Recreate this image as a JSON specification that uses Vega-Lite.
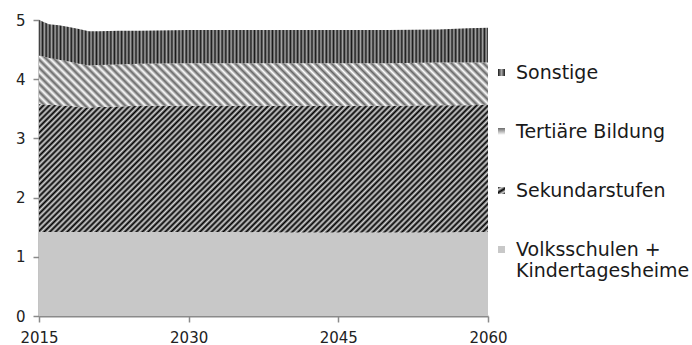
{
  "$schema": "https://vega.github.io/schema/vega-lite/v6.json",
  "width": 449,
  "height": 296,
  "autosize": {"type": "none"},
  "padding": {"left": 39, "top": 20, "right": 204, "bottom": 29},
  "background": "white",
  "params": [
    {
      "name": "hatchSonstige",
      "value": {"gradient": "linear", "x1": 0, "y1": 0, "x2": 1, "y2": 0, "stops": [
        {"offset":0,"color":"#1a1a1a"},{"offset":0.004,"color":"#a6a6a6"},{"offset":0.008,"color":"#1a1a1a"},{"offset":0.012,"color":"#a6a6a6"},{"offset":0.016,"color":"#1a1a1a"},{"offset":0.02,"color":"#a6a6a6"},{"offset":0.024,"color":"#1a1a1a"},{"offset":0.028,"color":"#a6a6a6"},{"offset":0.032,"color":"#1a1a1a"},{"offset":0.036,"color":"#a6a6a6"},
        {"offset":0.04,"color":"#1a1a1a"},{"offset":0.044,"color":"#a6a6a6"},{"offset":0.048,"color":"#1a1a1a"},{"offset":0.052,"color":"#a6a6a6"},{"offset":0.056,"color":"#1a1a1a"},{"offset":0.06,"color":"#a6a6a6"},{"offset":0.064,"color":"#1a1a1a"},{"offset":0.068,"color":"#a6a6a6"},{"offset":0.072,"color":"#1a1a1a"},{"offset":0.076,"color":"#a6a6a6"},
        {"offset":0.08,"color":"#1a1a1a"},{"offset":0.084,"color":"#a6a6a6"},{"offset":0.088,"color":"#1a1a1a"},{"offset":0.092,"color":"#a6a6a6"},{"offset":0.096,"color":"#1a1a1a"},{"offset":0.1,"color":"#a6a6a6"},{"offset":0.104,"color":"#1a1a1a"},{"offset":0.108,"color":"#a6a6a6"},{"offset":0.112,"color":"#1a1a1a"},{"offset":0.116,"color":"#a6a6a6"},
        {"offset":0.12,"color":"#1a1a1a"},{"offset":0.124,"color":"#a6a6a6"},{"offset":0.128,"color":"#1a1a1a"},{"offset":0.132,"color":"#a6a6a6"},{"offset":0.136,"color":"#1a1a1a"},{"offset":0.14,"color":"#a6a6a6"},{"offset":0.144,"color":"#1a1a1a"},{"offset":0.148,"color":"#a6a6a6"},{"offset":0.152,"color":"#1a1a1a"},{"offset":0.156,"color":"#a6a6a6"},
        {"offset":0.16,"color":"#1a1a1a"},{"offset":0.164,"color":"#a6a6a6"},{"offset":0.168,"color":"#1a1a1a"},{"offset":0.172,"color":"#a6a6a6"},{"offset":0.176,"color":"#1a1a1a"},{"offset":0.18,"color":"#a6a6a6"},{"offset":0.184,"color":"#1a1a1a"},{"offset":0.188,"color":"#a6a6a6"},{"offset":0.192,"color":"#1a1a1a"},{"offset":0.196,"color":"#a6a6a6"},
        {"offset":0.2,"color":"#1a1a1a"},{"offset":0.204,"color":"#a6a6a6"},{"offset":0.208,"color":"#1a1a1a"},{"offset":0.212,"color":"#a6a6a6"},{"offset":0.216,"color":"#1a1a1a"},{"offset":0.22,"color":"#a6a6a6"},{"offset":0.224,"color":"#1a1a1a"},{"offset":0.228,"color":"#a6a6a6"},{"offset":0.232,"color":"#1a1a1a"},{"offset":0.236,"color":"#a6a6a6"},
        {"offset":0.24,"color":"#1a1a1a"},{"offset":0.244,"color":"#a6a6a6"},{"offset":0.248,"color":"#1a1a1a"},{"offset":0.252,"color":"#a6a6a6"},{"offset":0.256,"color":"#1a1a1a"},{"offset":0.26,"color":"#a6a6a6"},{"offset":0.264,"color":"#1a1a1a"},{"offset":0.268,"color":"#a6a6a6"},{"offset":0.272,"color":"#1a1a1a"},{"offset":0.276,"color":"#a6a6a6"},
        {"offset":0.28,"color":"#1a1a1a"},{"offset":0.284,"color":"#a6a6a6"},{"offset":0.288,"color":"#1a1a1a"},{"offset":0.292,"color":"#a6a6a6"},{"offset":0.296,"color":"#1a1a1a"},{"offset":0.3,"color":"#a6a6a6"},{"offset":0.304,"color":"#1a1a1a"},{"offset":0.308,"color":"#a6a6a6"},{"offset":0.312,"color":"#1a1a1a"},{"offset":0.316,"color":"#a6a6a6"},
        {"offset":0.32,"color":"#1a1a1a"},{"offset":0.324,"color":"#a6a6a6"},{"offset":0.328,"color":"#1a1a1a"},{"offset":0.332,"color":"#a6a6a6"},{"offset":0.336,"color":"#1a1a1a"},{"offset":0.34,"color":"#a6a6a6"},{"offset":0.344,"color":"#1a1a1a"},{"offset":0.348,"color":"#a6a6a6"},{"offset":0.352,"color":"#1a1a1a"},{"offset":0.356,"color":"#a6a6a6"},
        {"offset":0.36,"color":"#1a1a1a"},{"offset":0.364,"color":"#a6a6a6"},{"offset":0.368,"color":"#1a1a1a"},{"offset":0.372,"color":"#a6a6a6"},{"offset":0.376,"color":"#1a1a1a"},{"offset":0.38,"color":"#a6a6a6"},{"offset":0.384,"color":"#1a1a1a"},{"offset":0.388,"color":"#a6a6a6"},{"offset":0.392,"color":"#1a1a1a"},{"offset":0.396,"color":"#a6a6a6"},
        {"offset":0.4,"color":"#1a1a1a"},{"offset":0.404,"color":"#a6a6a6"},{"offset":0.408,"color":"#1a1a1a"},{"offset":0.412,"color":"#a6a6a6"},{"offset":0.416,"color":"#1a1a1a"},{"offset":0.42,"color":"#a6a6a6"},{"offset":0.424,"color":"#1a1a1a"},{"offset":0.428,"color":"#a6a6a6"},{"offset":0.432,"color":"#1a1a1a"},{"offset":0.436,"color":"#a6a6a6"},
        {"offset":0.44,"color":"#1a1a1a"},{"offset":0.444,"color":"#a6a6a6"},{"offset":0.448,"color":"#1a1a1a"},{"offset":0.452,"color":"#a6a6a6"},{"offset":0.456,"color":"#1a1a1a"},{"offset":0.46,"color":"#a6a6a6"},{"offset":0.464,"color":"#1a1a1a"},{"offset":0.468,"color":"#a6a6a6"},{"offset":0.472,"color":"#1a1a1a"},{"offset":0.476,"color":"#a6a6a6"},
        {"offset":0.48,"color":"#1a1a1a"},{"offset":0.484,"color":"#a6a6a6"},{"offset":0.488,"color":"#1a1a1a"},{"offset":0.492,"color":"#a6a6a6"},{"offset":0.496,"color":"#1a1a1a"},{"offset":0.5,"color":"#a6a6a6"},{"offset":0.504,"color":"#1a1a1a"},{"offset":0.508,"color":"#a6a6a6"},{"offset":0.512,"color":"#1a1a1a"},{"offset":0.516,"color":"#a6a6a6"},
        {"offset":0.52,"color":"#1a1a1a"},{"offset":0.524,"color":"#a6a6a6"},{"offset":0.528,"color":"#1a1a1a"},{"offset":0.532,"color":"#a6a6a6"},{"offset":0.536,"color":"#1a1a1a"},{"offset":0.54,"color":"#a6a6a6"},{"offset":0.544,"color":"#1a1a1a"},{"offset":0.548,"color":"#a6a6a6"},{"offset":0.552,"color":"#1a1a1a"},{"offset":0.556,"color":"#a6a6a6"},
        {"offset":0.56,"color":"#1a1a1a"},{"offset":0.564,"color":"#a6a6a6"},{"offset":0.568,"color":"#1a1a1a"},{"offset":0.572,"color":"#a6a6a6"},{"offset":0.576,"color":"#1a1a1a"},{"offset":0.58,"color":"#a6a6a6"},{"offset":0.584,"color":"#1a1a1a"},{"offset":0.588,"color":"#a6a6a6"},{"offset":0.592,"color":"#1a1a1a"},{"offset":0.596,"color":"#a6a6a6"},
        {"offset":0.6,"color":"#1a1a1a"},{"offset":0.604,"color":"#a6a6a6"},{"offset":0.608,"color":"#1a1a1a"},{"offset":0.612,"color":"#a6a6a6"},{"offset":0.616,"color":"#1a1a1a"},{"offset":0.62,"color":"#a6a6a6"},{"offset":0.624,"color":"#1a1a1a"},{"offset":0.628,"color":"#a6a6a6"},{"offset":0.632,"color":"#1a1a1a"},{"offset":0.636,"color":"#a6a6a6"},
        {"offset":0.64,"color":"#1a1a1a"},{"offset":0.644,"color":"#a6a6a6"},{"offset":0.648,"color":"#1a1a1a"},{"offset":0.652,"color":"#a6a6a6"},{"offset":0.656,"color":"#1a1a1a"},{"offset":0.66,"color":"#a6a6a6"},{"offset":0.664,"color":"#1a1a1a"},{"offset":0.668,"color":"#a6a6a6"},{"offset":0.672,"color":"#1a1a1a"},{"offset":0.676,"color":"#a6a6a6"},
        {"offset":0.68,"color":"#1a1a1a"},{"offset":0.684,"color":"#a6a6a6"},{"offset":0.688,"color":"#1a1a1a"},{"offset":0.692,"color":"#a6a6a6"},{"offset":0.696,"color":"#1a1a1a"},{"offset":0.7,"color":"#a6a6a6"},{"offset":0.704,"color":"#1a1a1a"},{"offset":0.708,"color":"#a6a6a6"},{"offset":0.712,"color":"#1a1a1a"},{"offset":0.716,"color":"#a6a6a6"},
        {"offset":0.72,"color":"#1a1a1a"},{"offset":0.724,"color":"#a6a6a6"},{"offset":0.728,"color":"#1a1a1a"},{"offset":0.732,"color":"#a6a6a6"},{"offset":0.736,"color":"#1a1a1a"},{"offset":0.74,"color":"#a6a6a6"},{"offset":0.744,"color":"#1a1a1a"},{"offset":0.748,"color":"#a6a6a6"},{"offset":0.752,"color":"#1a1a1a"},{"offset":0.756,"color":"#a6a6a6"},
        {"offset":0.76,"color":"#1a1a1a"},{"offset":0.764,"color":"#a6a6a6"},{"offset":0.768,"color":"#1a1a1a"},{"offset":0.772,"color":"#a6a6a6"},{"offset":0.776,"color":"#1a1a1a"},{"offset":0.78,"color":"#a6a6a6"},{"offset":0.784,"color":"#1a1a1a"},{"offset":0.788,"color":"#a6a6a6"},{"offset":0.792,"color":"#1a1a1a"},{"offset":0.796,"color":"#a6a6a6"},
        {"offset":0.8,"color":"#1a1a1a"},{"offset":0.804,"color":"#a6a6a6"},{"offset":0.808,"color":"#1a1a1a"},{"offset":0.812,"color":"#a6a6a6"},{"offset":0.816,"color":"#1a1a1a"},{"offset":0.82,"color":"#a6a6a6"},{"offset":0.824,"color":"#1a1a1a"},{"offset":0.828,"color":"#a6a6a6"},{"offset":0.832,"color":"#1a1a1a"},{"offset":0.836,"color":"#a6a6a6"},
        {"offset":0.84,"color":"#1a1a1a"},{"offset":0.844,"color":"#a6a6a6"},{"offset":0.848,"color":"#1a1a1a"},{"offset":0.852,"color":"#a6a6a6"},{"offset":0.856,"color":"#1a1a1a"},{"offset":0.86,"color":"#a6a6a6"},{"offset":0.864,"color":"#1a1a1a"},{"offset":0.868,"color":"#a6a6a6"},{"offset":0.872,"color":"#1a1a1a"},{"offset":0.876,"color":"#a6a6a6"},
        {"offset":0.88,"color":"#1a1a1a"},{"offset":0.884,"color":"#a6a6a6"},{"offset":0.888,"color":"#1a1a1a"},{"offset":0.892,"color":"#a6a6a6"},{"offset":0.896,"color":"#1a1a1a"},{"offset":0.9,"color":"#a6a6a6"},{"offset":0.904,"color":"#1a1a1a"},{"offset":0.908,"color":"#a6a6a6"},{"offset":0.912,"color":"#1a1a1a"},{"offset":0.916,"color":"#a6a6a6"},
        {"offset":0.92,"color":"#1a1a1a"},{"offset":0.924,"color":"#a6a6a6"},{"offset":0.928,"color":"#1a1a1a"},{"offset":0.932,"color":"#a6a6a6"},{"offset":0.936,"color":"#1a1a1a"},{"offset":0.94,"color":"#a6a6a6"},{"offset":0.944,"color":"#1a1a1a"},{"offset":0.948,"color":"#a6a6a6"},{"offset":0.952,"color":"#1a1a1a"},{"offset":0.956,"color":"#a6a6a6"},
        {"offset":0.96,"color":"#1a1a1a"},{"offset":0.964,"color":"#a6a6a6"},{"offset":0.968,"color":"#1a1a1a"},{"offset":0.972,"color":"#a6a6a6"},{"offset":0.976,"color":"#1a1a1a"},{"offset":0.98,"color":"#a6a6a6"},{"offset":0.984,"color":"#1a1a1a"},{"offset":0.988,"color":"#a6a6a6"},{"offset":0.992,"color":"#1a1a1a"},{"offset":0.996,"color":"#a6a6a6"},
        {"offset":1,"color":"#1a1a1a"}
      ]}
    },
    {
      "name": "hatchTertiaer",
      "value": {"gradient": "linear", "x1": 0, "y1": 1, "x2": 1.101, "y2": 0.872, "stops": [
        {"offset":0,"color":"#666"},{"offset":0.008,"color":"#fff"},{"offset":0.016,"color":"#666"},{"offset":0.024,"color":"#fff"},{"offset":0.032,"color":"#666"},{"offset":0.04,"color":"#fff"},{"offset":0.048,"color":"#666"},{"offset":0.056,"color":"#fff"},{"offset":0.064,"color":"#666"},{"offset":0.072,"color":"#fff"},
        {"offset":0.08,"color":"#666"},{"offset":0.088,"color":"#fff"},{"offset":0.096,"color":"#666"},{"offset":0.104,"color":"#fff"},{"offset":0.112,"color":"#666"},{"offset":0.12,"color":"#fff"},{"offset":0.128,"color":"#666"},{"offset":0.136,"color":"#fff"},{"offset":0.144,"color":"#666"},{"offset":0.152,"color":"#fff"},
        {"offset":0.16,"color":"#666"},{"offset":0.168,"color":"#fff"},{"offset":0.176,"color":"#666"},{"offset":0.184,"color":"#fff"},{"offset":0.192,"color":"#666"},{"offset":0.2,"color":"#fff"},{"offset":0.208,"color":"#666"},{"offset":0.216,"color":"#fff"},{"offset":0.224,"color":"#666"},{"offset":0.232,"color":"#fff"},
        {"offset":0.24,"color":"#666"},{"offset":0.248,"color":"#fff"},{"offset":0.256,"color":"#666"},{"offset":0.264,"color":"#fff"},{"offset":0.272,"color":"#666"},{"offset":0.28,"color":"#fff"},{"offset":0.288,"color":"#666"},{"offset":0.296,"color":"#fff"},{"offset":0.304,"color":"#666"},{"offset":0.312,"color":"#fff"},
        {"offset":0.32,"color":"#666"},{"offset":0.328,"color":"#fff"},{"offset":0.336,"color":"#666"},{"offset":0.344,"color":"#fff"},{"offset":0.352,"color":"#666"},{"offset":0.36,"color":"#fff"},{"offset":0.368,"color":"#666"},{"offset":0.376,"color":"#fff"},{"offset":0.384,"color":"#666"},{"offset":0.392,"color":"#fff"},
        {"offset":0.4,"color":"#666"},{"offset":0.408,"color":"#fff"},{"offset":0.416,"color":"#666"},{"offset":0.424,"color":"#fff"},{"offset":0.432,"color":"#666"},{"offset":0.44,"color":"#fff"},{"offset":0.448,"color":"#666"},{"offset":0.456,"color":"#fff"},{"offset":0.464,"color":"#666"},{"offset":0.472,"color":"#fff"},
        {"offset":0.48,"color":"#666"},{"offset":0.488,"color":"#fff"},{"offset":0.496,"color":"#666"},{"offset":0.504,"color":"#fff"},{"offset":0.512,"color":"#666"},{"offset":0.52,"color":"#fff"},{"offset":0.528,"color":"#666"},{"offset":0.536,"color":"#fff"},{"offset":0.544,"color":"#666"},{"offset":0.552,"color":"#fff"},
        {"offset":0.56,"color":"#666"},{"offset":0.568,"color":"#fff"},{"offset":0.576,"color":"#666"},{"offset":0.584,"color":"#fff"},{"offset":0.592,"color":"#666"},{"offset":0.6,"color":"#fff"},{"offset":0.608,"color":"#666"},{"offset":0.616,"color":"#fff"},{"offset":0.624,"color":"#666"},{"offset":0.632,"color":"#fff"},
        {"offset":0.64,"color":"#666"},{"offset":0.648,"color":"#fff"},{"offset":0.656,"color":"#666"},{"offset":0.664,"color":"#fff"},{"offset":0.672,"color":"#666"},{"offset":0.68,"color":"#fff"},{"offset":0.688,"color":"#666"},{"offset":0.696,"color":"#fff"},{"offset":0.704,"color":"#666"},{"offset":0.712,"color":"#fff"},
        {"offset":0.72,"color":"#666"},{"offset":0.728,"color":"#fff"},{"offset":0.736,"color":"#666"},{"offset":0.744,"color":"#fff"},{"offset":0.752,"color":"#666"},{"offset":0.76,"color":"#fff"},{"offset":0.768,"color":"#666"},{"offset":0.776,"color":"#fff"},{"offset":0.784,"color":"#666"},{"offset":0.792,"color":"#fff"},
        {"offset":0.8,"color":"#666"},{"offset":0.808,"color":"#fff"},{"offset":0.816,"color":"#666"},{"offset":0.824,"color":"#fff"},{"offset":0.832,"color":"#666"},{"offset":0.84,"color":"#fff"},{"offset":0.848,"color":"#666"},{"offset":0.856,"color":"#fff"},{"offset":0.864,"color":"#666"},{"offset":0.872,"color":"#fff"},
        {"offset":0.88,"color":"#666"},{"offset":0.888,"color":"#fff"},{"offset":0.896,"color":"#666"},{"offset":0.904,"color":"#fff"},{"offset":0.912,"color":"#666"},{"offset":0.92,"color":"#fff"},{"offset":0.928,"color":"#666"},{"offset":0.936,"color":"#fff"},{"offset":0.944,"color":"#666"},{"offset":0.952,"color":"#fff"},
        {"offset":0.96,"color":"#666"},{"offset":0.968,"color":"#fff"},{"offset":0.976,"color":"#666"},{"offset":0.984,"color":"#fff"},{"offset":0.992,"color":"#666"},{"offset":1,"color":"#fff"}
      ]}
    },
    {
      "name": "hatchSekundar",
      "value": {"gradient": "linear", "x1": 0, "y1": 0, "x2": 1.189, "y2": 0.34, "stops": [
        {"offset":0,"color":"#000"},{"offset":0.005,"color":"#d4d4d4"},{"offset":0.01,"color":"#000"},{"offset":0.015,"color":"#d4d4d4"},{"offset":0.02,"color":"#000"},{"offset":0.025,"color":"#d4d4d4"},{"offset":0.03,"color":"#000"},{"offset":0.035,"color":"#d4d4d4"},{"offset":0.04,"color":"#000"},{"offset":0.045,"color":"#d4d4d4"},
        {"offset":0.05,"color":"#000"},{"offset":0.055,"color":"#d4d4d4"},{"offset":0.06,"color":"#000"},{"offset":0.065,"color":"#d4d4d4"},{"offset":0.07,"color":"#000"},{"offset":0.075,"color":"#d4d4d4"},{"offset":0.08,"color":"#000"},{"offset":0.085,"color":"#d4d4d4"},{"offset":0.09,"color":"#000"},{"offset":0.095,"color":"#d4d4d4"},
        {"offset":0.1,"color":"#000"},{"offset":0.105,"color":"#d4d4d4"},{"offset":0.11,"color":"#000"},{"offset":0.115,"color":"#d4d4d4"},{"offset":0.12,"color":"#000"},{"offset":0.125,"color":"#d4d4d4"},{"offset":0.13,"color":"#000"},{"offset":0.135,"color":"#d4d4d4"},{"offset":0.14,"color":"#000"},{"offset":0.145,"color":"#d4d4d4"},
        {"offset":0.15,"color":"#000"},{"offset":0.155,"color":"#d4d4d4"},{"offset":0.16,"color":"#000"},{"offset":0.165,"color":"#d4d4d4"},{"offset":0.17,"color":"#000"},{"offset":0.175,"color":"#d4d4d4"},{"offset":0.18,"color":"#000"},{"offset":0.185,"color":"#d4d4d4"},{"offset":0.19,"color":"#000"},{"offset":0.195,"color":"#d4d4d4"},
        {"offset":0.2,"color":"#000"},{"offset":0.205,"color":"#d4d4d4"},{"offset":0.21,"color":"#000"},{"offset":0.215,"color":"#d4d4d4"},{"offset":0.22,"color":"#000"},{"offset":0.225,"color":"#d4d4d4"},{"offset":0.23,"color":"#000"},{"offset":0.235,"color":"#d4d4d4"},{"offset":0.24,"color":"#000"},{"offset":0.245,"color":"#d4d4d4"},
        {"offset":0.25,"color":"#000"},{"offset":0.255,"color":"#d4d4d4"},{"offset":0.26,"color":"#000"},{"offset":0.265,"color":"#d4d4d4"},{"offset":0.27,"color":"#000"},{"offset":0.275,"color":"#d4d4d4"},{"offset":0.28,"color":"#000"},{"offset":0.285,"color":"#d4d4d4"},{"offset":0.29,"color":"#000"},{"offset":0.295,"color":"#d4d4d4"},
        {"offset":0.3,"color":"#000"},{"offset":0.305,"color":"#d4d4d4"},{"offset":0.31,"color":"#000"},{"offset":0.315,"color":"#d4d4d4"},{"offset":0.32,"color":"#000"},{"offset":0.325,"color":"#d4d4d4"},{"offset":0.33,"color":"#000"},{"offset":0.335,"color":"#d4d4d4"},{"offset":0.34,"color":"#000"},{"offset":0.345,"color":"#d4d4d4"},
        {"offset":0.35,"color":"#000"},{"offset":0.355,"color":"#d4d4d4"},{"offset":0.36,"color":"#000"},{"offset":0.365,"color":"#d4d4d4"},{"offset":0.37,"color":"#000"},{"offset":0.375,"color":"#d4d4d4"},{"offset":0.38,"color":"#000"},{"offset":0.385,"color":"#d4d4d4"},{"offset":0.39,"color":"#000"},{"offset":0.395,"color":"#d4d4d4"},
        {"offset":0.4,"color":"#000"},{"offset":0.405,"color":"#d4d4d4"},{"offset":0.41,"color":"#000"},{"offset":0.415,"color":"#d4d4d4"},{"offset":0.42,"color":"#000"},{"offset":0.425,"color":"#d4d4d4"},{"offset":0.43,"color":"#000"},{"offset":0.435,"color":"#d4d4d4"},{"offset":0.44,"color":"#000"},{"offset":0.445,"color":"#d4d4d4"},
        {"offset":0.45,"color":"#000"},{"offset":0.455,"color":"#d4d4d4"},{"offset":0.46,"color":"#000"},{"offset":0.465,"color":"#d4d4d4"},{"offset":0.47,"color":"#000"},{"offset":0.475,"color":"#d4d4d4"},{"offset":0.48,"color":"#000"},{"offset":0.485,"color":"#d4d4d4"},{"offset":0.49,"color":"#000"},{"offset":0.495,"color":"#d4d4d4"},
        {"offset":0.5,"color":"#000"},{"offset":0.505,"color":"#d4d4d4"},{"offset":0.51,"color":"#000"},{"offset":0.515,"color":"#d4d4d4"},{"offset":0.52,"color":"#000"},{"offset":0.525,"color":"#d4d4d4"},{"offset":0.53,"color":"#000"},{"offset":0.535,"color":"#d4d4d4"},{"offset":0.54,"color":"#000"},{"offset":0.545,"color":"#d4d4d4"},
        {"offset":0.55,"color":"#000"},{"offset":0.555,"color":"#d4d4d4"},{"offset":0.56,"color":"#000"},{"offset":0.565,"color":"#d4d4d4"},{"offset":0.57,"color":"#000"},{"offset":0.575,"color":"#d4d4d4"},{"offset":0.58,"color":"#000"},{"offset":0.585,"color":"#d4d4d4"},{"offset":0.59,"color":"#000"},{"offset":0.595,"color":"#d4d4d4"},
        {"offset":0.6,"color":"#000"},{"offset":0.605,"color":"#d4d4d4"},{"offset":0.61,"color":"#000"},{"offset":0.615,"color":"#d4d4d4"},{"offset":0.62,"color":"#000"},{"offset":0.625,"color":"#d4d4d4"},{"offset":0.63,"color":"#000"},{"offset":0.635,"color":"#d4d4d4"},{"offset":0.64,"color":"#000"},{"offset":0.645,"color":"#d4d4d4"},
        {"offset":0.65,"color":"#000"},{"offset":0.655,"color":"#d4d4d4"},{"offset":0.66,"color":"#000"},{"offset":0.665,"color":"#d4d4d4"},{"offset":0.67,"color":"#000"},{"offset":0.675,"color":"#d4d4d4"},{"offset":0.68,"color":"#000"},{"offset":0.685,"color":"#d4d4d4"},{"offset":0.69,"color":"#000"},{"offset":0.695,"color":"#d4d4d4"},
        {"offset":0.7,"color":"#000"},{"offset":0.705,"color":"#d4d4d4"},{"offset":0.71,"color":"#000"},{"offset":0.715,"color":"#d4d4d4"},{"offset":0.72,"color":"#000"},{"offset":0.725,"color":"#d4d4d4"},{"offset":0.73,"color":"#000"},{"offset":0.735,"color":"#d4d4d4"},{"offset":0.74,"color":"#000"},{"offset":0.745,"color":"#d4d4d4"},
        {"offset":0.75,"color":"#000"},{"offset":0.755,"color":"#d4d4d4"},{"offset":0.76,"color":"#000"},{"offset":0.765,"color":"#d4d4d4"},{"offset":0.77,"color":"#000"},{"offset":0.775,"color":"#d4d4d4"},{"offset":0.78,"color":"#000"},{"offset":0.785,"color":"#d4d4d4"},{"offset":0.79,"color":"#000"},{"offset":0.795,"color":"#d4d4d4"},
        {"offset":0.8,"color":"#000"},{"offset":0.805,"color":"#d4d4d4"},{"offset":0.81,"color":"#000"},{"offset":0.815,"color":"#d4d4d4"},{"offset":0.82,"color":"#000"},{"offset":0.825,"color":"#d4d4d4"},{"offset":0.83,"color":"#000"},{"offset":0.835,"color":"#d4d4d4"},{"offset":0.84,"color":"#000"},{"offset":0.845,"color":"#d4d4d4"},
        {"offset":0.85,"color":"#000"},{"offset":0.855,"color":"#d4d4d4"},{"offset":0.86,"color":"#000"},{"offset":0.865,"color":"#d4d4d4"},{"offset":0.87,"color":"#000"},{"offset":0.875,"color":"#d4d4d4"},{"offset":0.88,"color":"#000"},{"offset":0.885,"color":"#d4d4d4"},{"offset":0.89,"color":"#000"},{"offset":0.895,"color":"#d4d4d4"},
        {"offset":0.9,"color":"#000"},{"offset":0.905,"color":"#d4d4d4"},{"offset":0.91,"color":"#000"},{"offset":0.915,"color":"#d4d4d4"},{"offset":0.92,"color":"#000"},{"offset":0.925,"color":"#d4d4d4"},{"offset":0.93,"color":"#000"},{"offset":0.935,"color":"#d4d4d4"},{"offset":0.94,"color":"#000"},{"offset":0.945,"color":"#d4d4d4"},
        {"offset":0.95,"color":"#000"},{"offset":0.955,"color":"#d4d4d4"},{"offset":0.96,"color":"#000"},{"offset":0.965,"color":"#d4d4d4"},{"offset":0.97,"color":"#000"},{"offset":0.975,"color":"#d4d4d4"},{"offset":0.98,"color":"#000"},{"offset":0.985,"color":"#d4d4d4"},{"offset":0.99,"color":"#000"},{"offset":0.995,"color":"#d4d4d4"},
        {"offset":1,"color":"#000"}
      ]}
    }
  ],
  "config": {
    "view": {"stroke": null},
    "font": "DejaVu Sans",
    "axis": {
      "domainColor": "#8a8a8a",
      "domainWidth": 2,
      "tickColor": "#8a8a8a",
      "tickWidth": 1.5,
      "tickSize": 6,
      "labelColor": "#222222",
      "labelFont": "DejaVu Sans",
      "labelFontSize": 15,
      "labelPadding": 8,
      "grid": false,
      "title": null
    }
  },
  "data": {
    "values": [
      {"year": 2015, "Volksschulen + Kindertagesheime": 1.42, "Sekundarstufen": 2.16, "Tertiäre Bildung": 0.82, "Sonstige": 0.60},
      {"year": 2016, "Volksschulen + Kindertagesheime": 1.42, "Sekundarstufen": 2.15, "Tertiäre Bildung": 0.79, "Sonstige": 0.57},
      {"year": 2017, "Volksschulen + Kindertagesheime": 1.42, "Sekundarstufen": 2.14, "Tertiäre Bildung": 0.77, "Sonstige": 0.58},
      {"year": 2018, "Volksschulen + Kindertagesheime": 1.42, "Sekundarstufen": 2.13, "Tertiäre Bildung": 0.75, "Sonstige": 0.58},
      {"year": 2019, "Volksschulen + Kindertagesheime": 1.42, "Sekundarstufen": 2.11, "Tertiäre Bildung": 0.73, "Sonstige": 0.59},
      {"year": 2020, "Volksschulen + Kindertagesheime": 1.42, "Sekundarstufen": 2.10, "Tertiäre Bildung": 0.71, "Sonstige": 0.58},
      {"year": 2021, "Volksschulen + Kindertagesheime": 1.42, "Sekundarstufen": 2.11, "Tertiäre Bildung": 0.71, "Sonstige": 0.57},
      {"year": 2023, "Volksschulen + Kindertagesheime": 1.42, "Sekundarstufen": 2.12, "Tertiäre Bildung": 0.71, "Sonstige": 0.57},
      {"year": 2025, "Volksschulen + Kindertagesheime": 1.42, "Sekundarstufen": 2.13, "Tertiäre Bildung": 0.71, "Sonstige": 0.56},
      {"year": 2030, "Volksschulen + Kindertagesheime": 1.42, "Sekundarstufen": 2.13, "Tertiäre Bildung": 0.72, "Sonstige": 0.56},
      {"year": 2035, "Volksschulen + Kindertagesheime": 1.42, "Sekundarstufen": 2.13, "Tertiäre Bildung": 0.72, "Sonstige": 0.56},
      {"year": 2040, "Volksschulen + Kindertagesheime": 1.41, "Sekundarstufen": 2.14, "Tertiäre Bildung": 0.72, "Sonstige": 0.56},
      {"year": 2045, "Volksschulen + Kindertagesheime": 1.41, "Sekundarstufen": 2.14, "Tertiäre Bildung": 0.72, "Sonstige": 0.56},
      {"year": 2050, "Volksschulen + Kindertagesheime": 1.41, "Sekundarstufen": 2.14, "Tertiäre Bildung": 0.72, "Sonstige": 0.56},
      {"year": 2055, "Volksschulen + Kindertagesheime": 1.41, "Sekundarstufen": 2.15, "Tertiäre Bildung": 0.72, "Sonstige": 0.56},
      {"year": 2058, "Volksschulen + Kindertagesheime": 1.42, "Sekundarstufen": 2.14, "Tertiäre Bildung": 0.72, "Sonstige": 0.58},
      {"year": 2060, "Volksschulen + Kindertagesheime": 1.42, "Sekundarstufen": 2.15, "Tertiäre Bildung": 0.71, "Sonstige": 0.59}
    ]
  },
  "transform": [
    {"fold": ["Volksschulen + Kindertagesheime", "Sekundarstufen", "Tertiäre Bildung", "Sonstige"], "as": ["series", "value"]},
    {"calculate": "indexof(['Volksschulen + Kindertagesheime', 'Sekundarstufen', 'Tertiäre Bildung', 'Sonstige'], datum.series)", "as": "stackRank"}
  ],
  "mark": {"type": "area", "interpolate": "linear", "strokeWidth": 0},
  "encoding": {
    "x": {
      "field": "year",
      "type": "quantitative",
      "scale": {"domain": [2015, 2060], "nice": false, "zero": false},
      "axis": {"values": [2015, 2030, 2045, 2060], "format": "d", "labelFlush": false}
    },
    "y": {
      "field": "value",
      "type": "quantitative",
      "stack": "zero",
      "scale": {"domain": [0, 5], "nice": false},
      "axis": {"values": [0, 1, 2, 3, 4, 5]}
    },
    "order": {"field": "stackRank", "type": "quantitative"},
    "color": {
      "field": "series",
      "type": "nominal",
      "scale": {
        "domain": ["Sonstige", "Tertiäre Bildung", "Sekundarstufen", "Volksschulen + Kindertagesheime"],
        "range": [{"expr": "hatchSonstige"}, {"expr": "hatchTertiaer"}, {"expr": "hatchSekundar"}, "#c8c8c8"]
      },
      "legend": {
        "orient": "none",
        "legendX": 453,
        "legendY": 43,
        "title": null,
        "symbolType": "square",
        "symbolSize": 49,
        "symbolStrokeWidth": 0,
        "labelFont": "DejaVu Sans",
        "labelFontSize": 19,
        "labelColor": "#1a1a1a",
        "labelOffset": 5,
        "labelLimit": 300,
        "rowPadding": 39,
        "labelExpr": "datum.label == 'Volksschulen + Kindertagesheime' ? ['Volksschulen +', 'Kindertagesheime'] : datum.label"
      }
    }
  }
}
